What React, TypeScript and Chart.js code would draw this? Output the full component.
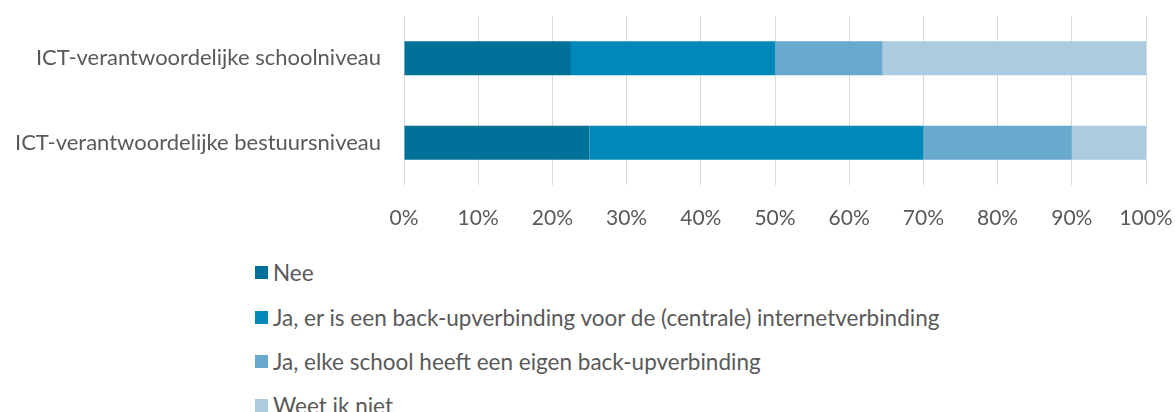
import React, { useEffect, useRef } from "react";
import { Chart, registerables } from "chart.js";

Chart.register(...registerables);

const categories = [
  "ICT-verantwoordelijke schoolniveau",
  "ICT-verantwoordelijke bestuursniveau",
];
const seriesNames = [
  "Nee",
  "Ja, er is een back-upverbinding voor de (centrale) internetverbinding",
  "Ja, elke school heeft een eigen back-upverbinding",
  "Weet ik niet",
];
const nee = [22.5, 25];
const jaCentraal = [27.5, 45];
const jaEigen = [14.5, 20];
const weetNiet = [35.5, 10];
const seriesColors = ["#00729A", "#0089B8", "#69A9CE", "#ABCBE0"];
const xTicks = [0, 10, 20, 30, 40, 50, 60, 70, 80, 90, 100];

const FONT = "Lato, 'Open Sans', sans-serif";
const TEXT = "#595959";

export default function App() {
  const ref = useRef<HTMLCanvasElement | null>(null);

  useEffect(() => {
    document.body.style.margin = "0";
    const values = [nee, jaCentraal, jaEigen, weetNiet];
    const chart = new Chart(ref.current as HTMLCanvasElement, {
      type: "bar",
      data: {
        labels: categories,
        datasets: seriesNames.map((name, i) => ({
          label: name,
          data: values[i],
          backgroundColor: seriesColors[i],
          borderWidth: 0,
          barPercentage: 0.4,
          categoryPercentage: 1,
        })),
      },
      options: {
        indexAxis: "y",
        animation: false,
        responsive: false,
        maintainAspectRatio: false,
        layout: { padding: { left: 0, right: 29, top: 16, bottom: 0 } },
        plugins: {
          legend: { display: false },
          tooltip: { enabled: false },
        },
        scales: {
          x: {
            stacked: true,
            min: 0,
            max: 100,
            afterBuildTicks: (axis: any) => {
              axis.ticks = xTicks.map((v) => ({ value: v }));
            },
            afterFit: (axis: any) => {
              axis.height = 55;
              axis.paddingLeft = 0;
              axis.paddingRight = 0;
            },
            border: { display: false },
            grid: { color: "#D9D9D9", lineWidth: 1, drawTicks: false },
            ticks: {
              padding: 21,
              color: TEXT,
              font: { family: FONT, size: 21 },
              callback: (v: any) => v + "%",
              maxRotation: 0,
            },
          },
          y: {
            stacked: true,
            afterFit: (axis: any) => {
              axis.width = 404;
              axis.paddingTop = 0;
              axis.paddingBottom = 0;
            },
            border: { display: false },
            grid: { display: false, drawTicks: false },
            ticks: {
              padding: 23,
              color: TEXT,
              font: { family: FONT, size: 22 },
            },
          },
        },
      },
    });
    return () => chart.destroy();
  }, []);

  const legendTops = [272, 317, 361, 405];

  return (
    <div style={{ position: "relative", width: 1175, height: 412, overflow: "hidden", background: "#fff" }}>
      <canvas ref={ref} width={1175} height={240} style={{ position: "absolute", left: 0, top: 0 }} />
      {seriesNames.map((name, i) => (
        <div
          key={name}
          style={{
            position: "absolute",
            left: 255,
            top: legendTops[i] - 15,
            height: 30,
            display: "flex",
            alignItems: "center",
            fontFamily: FONT,
            fontSize: 22.5,
            color: TEXT,
            whiteSpace: "nowrap",
          }}
        >
          <span style={{ display: "inline-block", width: 13, height: 13, background: seriesColors[i], marginRight: 5 }} />
          <span>{name}</span>
        </div>
      ))}
    </div>
  );
}
